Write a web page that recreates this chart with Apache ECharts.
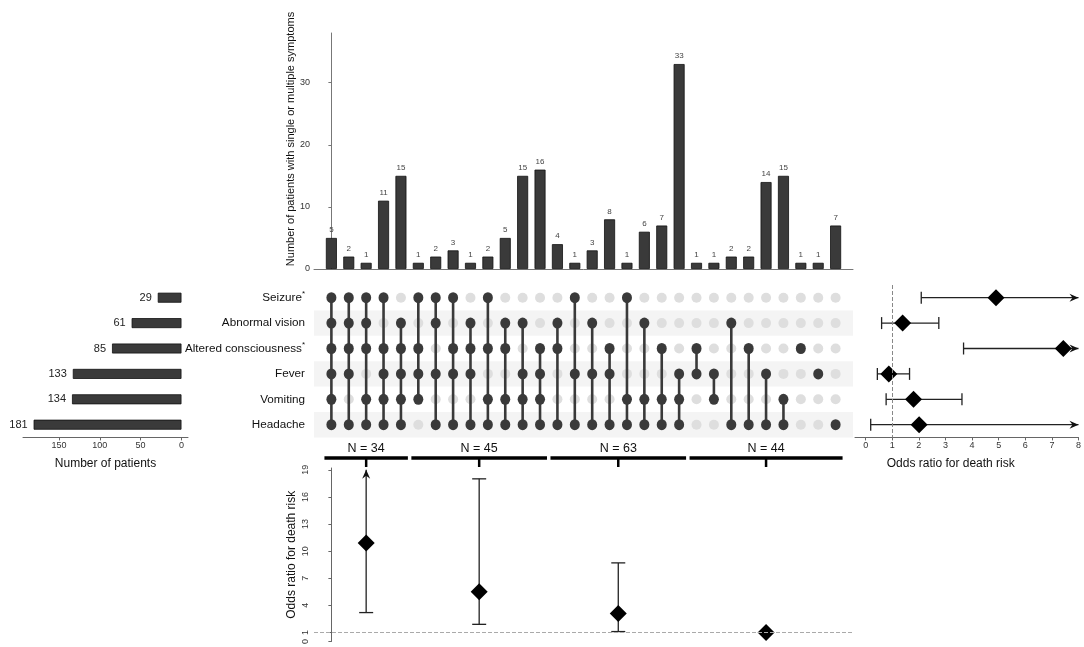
<!DOCTYPE html>
<html>
<head>
<meta charset="utf-8">
<script src="https://cdn.jsdelivr.net/npm/echarts@6/dist/echarts.min.js"></script>
<style>
  html, body { margin: 0; padding: 0; background: #fff; }
  #chart { width: 1084px; height: 647px; }
</style>
</head>
<body>
<div id="chart"></div>
<script>
// symptom sets (matrix rows, top to bottom)
const sets = ['Seizure', 'Abnormal vision', 'Altered consciousness', 'Fever', 'Vomiting', 'Headache'];
const starred = ['Seizure', 'Altered consciousness'];
const setSizes = [29, 61, 85, 133, 134, 181];

// intersections (matrix columns, left to right)
const intersectionCounts = [5, 2, 1, 11, 15, 1, 2, 3, 1, 2, 5, 15, 16, 4, 1, 3, 8, 1, 6, 7, 33, 1, 1, 2, 2, 14, 15, 1, 1, 7];
const intersectionSets = [
  [0, 1, 2, 3, 4, 5], [0, 1, 2, 3, 5], [0, 1, 2, 4, 5], [0, 2, 3, 4, 5], [1, 2, 3, 4, 5],
  [0, 2, 3, 4], [0, 1, 3, 5], [0, 2, 3, 5], [1, 2, 3, 5], [0, 2, 4, 5], [1, 2, 4, 5], [1, 3, 4, 5], [2, 3, 4, 5],
  [1, 2, 5], [0, 3, 5], [1, 3, 5], [2, 3, 5], [0, 4, 5], [1, 4, 5], [2, 4, 5], [3, 4, 5],
  [2, 3], [3, 4], [1, 5], [2, 5], [3, 5], [4, 5], [2], [3], [5]
];
const countTicks = [0, 10, 20, 30];

// odds ratio per symptom (right panel)
const setOR = [4.9, 1.39, 7.43, 0.87, 1.8, 2.01];
const setLow = [2.09, 0.6, 3.68, 0.44, 0.77, 0.19];
const setHigh = [Infinity, 2.75, Infinity, 1.65, 3.62, Infinity];

// odds ratio per number of symptoms (bottom panel)
const groupLabels = ['N = 34', 'N = 45', 'N = 63', 'N = 44'];
const groupRanges = [[0, 4], [5, 12], [13, 20], [21, 29]];
const groupOR = [10.9, 5.5, 3.1, 1.0];
const groupLow = [3.2, 1.9, 1.1, null];
const groupHigh = [Infinity, 18.0, 8.7, null];

const orTicksRight = [0, 1, 2, 3, 4, 5, 6, 7, 8];
const orTicksBottom = [0, 1, 4, 7, 10, 13, 16, 19];
const patientTicks = [0, 50, 100, 150];

const FONT = 'Liberation Sans, Arial, Helvetica, sans-serif';
const DARK = '#3a3a3a';
const COL_MIN = -1, COL_MAX = 30;
const OR_R_MAX = 8, OR_B_MAX = 19.2;

// matrix dots
const darkDots = [], lightDots = [], links = [];
intersectionSets.forEach((m, c) => {
  sets.forEach((s, r) => (m.includes(r) ? darkDots : lightDots).push([c, r]));
  if (m.length > 1) links.push([c, Math.min(...m), Math.max(...m)]);
});
const stripeRows = sets.map((s, r) => [r]).filter(d => d[0] % 2 === 1);
const groupCenter = groupRanges.map(g => (g[0] + g[1]) / 2);

const chart = echarts.init(document.getElementById('chart'));

const lineStyle = { stroke: '#222', lineWidth: 1.3 };

chart.setOption({
  animation: false,
  textStyle: { fontFamily: FONT },
  grid: [
    { left: 314, top: 33, width: 539, height: 236 },
    { left: 314, top: 285, width: 539, height: 152.4 },
    { left: 23, top: 285, width: 165, height: 152.4 },
    { left: 855, top: 285, width: 225, height: 152.4 },
    { left: 314, top: 468, width: 539, height: 174 }
  ],
  xAxis: [
    { gridIndex: 0, type: 'value', min: COL_MIN, max: COL_MAX, axisLine: { lineStyle: { color: '#777' } },
      axisTick: { show: false }, axisLabel: { show: false }, splitLine: { show: false } },
    { gridIndex: 1, type: 'value', min: COL_MIN, max: COL_MAX, show: false },
    { gridIndex: 2, type: 'value', inverse: true, min: -8, max: 194,
      axisLine: { show: true, lineStyle: { color: '#666' } },
      axisTick: { show: true, length: 3, customValues: patientTicks, lineStyle: { color: '#666' } },
      axisLabel: { customValues: patientTicks, fontSize: 9, color: '#333', margin: 4 },
      splitLine: { show: false },
      name: 'Number of patients', nameLocation: 'middle', nameGap: 20,
      nameTextStyle: { fontSize: 12, color: '#111' } },
    { gridIndex: 3, type: 'value', min: -0.4, max: OR_R_MAX,
      axisLine: { show: true, lineStyle: { color: '#666' } },
      axisTick: { show: true, length: 3, customValues: orTicksRight, lineStyle: { color: '#666' } },
      axisLabel: { customValues: orTicksRight, fontSize: 9, color: '#333', margin: 4 },
      splitLine: { show: false },
      name: 'Odds ratio for death risk', nameLocation: 'middle', nameGap: 20,
      nameTextStyle: { fontSize: 12, color: '#111', padding: [0, 32, 0, 0] } },
    { gridIndex: 4, type: 'value', min: COL_MIN, max: COL_MAX, show: false }
  ],
  yAxis: [
    { gridIndex: 0, type: 'value', min: 0, max: 38,
      axisLine: { show: true, lineStyle: { color: '#777' } },
      axisTick: { show: true, length: 3, customValues: countTicks, lineStyle: { color: '#777' } },
      axisLabel: { customValues: countTicks, fontSize: 9, color: '#333', margin: 4 },
      splitLine: { show: false },
      name: 'Number of patients with single or multiple symptoms', nameLocation: 'middle', nameGap: 16,
      nameTextStyle: { fontSize: 11, color: '#111', padding: [0, 0, 0, 24] } },
    { gridIndex: 1, type: 'value', min: -0.5, max: 5.5, inverse: true, show: false },
    { gridIndex: 1, type: 'category', data: sets, inverse: true, position: 'left',
      axisLine: { show: false }, axisTick: { show: false },
      axisLabel: { fontSize: 11.7, color: '#111', margin: 9,
        formatter: v => starred.includes(v) ? v + '{s|*}' : v,
        rich: { s: { fontSize: 8, color: '#111', padding: [0, 0, 7, 0] } } } },
    { gridIndex: 2, type: 'category', data: sets, inverse: true, show: false },
    { gridIndex: 3, type: 'category', data: sets, inverse: true, show: false },
    { gridIndex: 4, type: 'value', min: 0, max: OR_B_MAX,
      axisLine: { show: true, lineStyle: { color: '#666' } },
      axisTick: { show: true, length: 3, customValues: orTicksBottom, lineStyle: { color: '#666' } },
      axisLabel: { customValues: orTicksBottom, fontSize: 9, color: '#333', rotate: 90, margin: 4 },
      splitLine: { show: false },
      name: 'Odds ratio for death risk', nameLocation: 'middle', nameGap: 16,
      nameTextStyle: { fontSize: 12, color: '#111' } }
  ],
  series: [
    // intersection sizes
    { type: 'bar', xAxisIndex: 0, yAxisIndex: 0, barWidth: 11,
      data: intersectionCounts.map((v, i) => [i, v]),
      itemStyle: { color: DARK, borderColor: '#111', borderWidth: 0.8 },
      label: { show: true, position: 'top', fontSize: 8, color: '#444', distance: 4 } },

    // matrix stripes
    { type: 'custom', xAxisIndex: 1, yAxisIndex: 1, z: 1, silent: true, data: stripeRows,
      renderItem: (params, api) => {
        const r = api.value(0);
        const a = api.coord([COL_MIN, r - 0.5]);
        const b = api.coord([COL_MAX, r + 0.5]);
        return { type: 'rect', shape: { x: a[0], y: a[1], width: b[0] - a[0], height: b[1] - a[1] },
          style: { fill: '#f4f4f4' } };
      } },
    // light dots
    { type: 'scatter', xAxisIndex: 1, yAxisIndex: 1, z: 2, symbolSize: 10, data: lightDots,
      itemStyle: { color: '#dedede', opacity: 1 } },
    // connecting lines
    { type: 'custom', xAxisIndex: 1, yAxisIndex: 1, z: 3, data: links, encode: { x: 0, y: [1, 2] },
      renderItem: (params, api) => {
        const a = api.coord([api.value(0), api.value(1)]);
        const b = api.coord([api.value(0), api.value(2)]);
        return { type: 'line', shape: { x1: a[0], y1: a[1], x2: b[0], y2: b[1] },
          style: { stroke: DARK, lineWidth: 2.6 } };
      } },
    // dark dots
    { type: 'scatter', xAxisIndex: 1, yAxisIndex: 1, z: 4, symbolSize: [10, 11], data: darkDots,
      itemStyle: { color: DARK, opacity: 1 } },

    // set sizes
    { type: 'bar', xAxisIndex: 2, yAxisIndex: 3, barWidth: 10, data: setSizes,
      itemStyle: { color: DARK, borderColor: '#111', borderWidth: 0.8 },
      label: { show: true, position: 'left', fontSize: 11, color: '#222', distance: 6 } },

    // right forest: CI lines
    { type: 'custom', xAxisIndex: 3, yAxisIndex: 4, z: 3, data: sets.map((s, i) => [i]),
      encode: { y: 0 },
      renderItem: (params, api) => {
        const i = params.dataIndex;
        const open = setHigh[i] > OR_R_MAX;
        const a = api.coord([setLow[i], i]);
        const b = api.coord([open ? OR_R_MAX : setHigh[i], i]);
        const ch = [
          { type: 'line', shape: { x1: a[0], y1: a[1], x2: b[0], y2: b[1] }, style: lineStyle },
          { type: 'line', shape: { x1: a[0], y1: a[1] - 6, x2: a[0], y2: a[1] + 6 }, style: lineStyle }
        ];
        if (open) {
          ch.push({ type: 'polygon', shape: { points: [[b[0], b[1]], [b[0] - 9, b[1] - 4], [b[0] - 6, b[1]], [b[0] - 9, b[1] + 4]] },
            style: { fill: '#111' } });
        } else {
          ch.push({ type: 'line', shape: { x1: b[0], y1: b[1] - 6, x2: b[0], y2: b[1] + 6 }, style: lineStyle });
        }
        return { type: 'group', children: ch };
      } },
    // right forest: diamonds
    { type: 'scatter', xAxisIndex: 3, yAxisIndex: 4, z: 4, symbol: 'diamond', symbolSize: 17,
      data: setOR.map((v, i) => [v, i]), itemStyle: { color: '#000', opacity: 1 },
      markLine: { silent: true, symbol: 'none', label: { show: false },
        lineStyle: { type: 'dashed', color: '#888', width: 1 }, data: [{ xAxis: 1 }] } },

    // bottom forest: group brackets
    { type: 'custom', xAxisIndex: 4, yAxisIndex: 5, clip: false, data: groupLabels.map((g, i) => [i]),
      encode: { x: 0 },
      renderItem: (params, api) => {
        const g = params.dataIndex;
        const a = api.coord([groupRanges[g][0] - 0.4, OR_B_MAX]);
        const b = api.coord([groupRanges[g][1] + 0.4, OR_B_MAX]);
        const c = api.coord([groupCenter[g], OR_B_MAX]);
        const y = a[1] - 10;
        return { type: 'group', children: [
          { type: 'line', shape: { x1: a[0], y1: y, x2: b[0], y2: y }, style: { stroke: '#000', lineWidth: 3.5 } },
          { type: 'line', shape: { x1: c[0], y1: y, x2: c[0], y2: y + 9 }, style: { stroke: '#000', lineWidth: 2.5 } },
          { type: 'text', x: c[0], y: y - 9,
            style: { text: groupLabels[g], fontSize: 12.5, fontFamily: FONT, fill: '#111', align: 'center', verticalAlign: 'middle' } }
        ] };
      } },
    // bottom forest: CI lines
    { type: 'custom', xAxisIndex: 4, yAxisIndex: 5, z: 3, data: groupLabels.map((g, i) => [i]),
      encode: { x: 0 },
      renderItem: (params, api) => {
        const g = params.dataIndex;
        if (groupLow[g] == null) return null;
        const open = groupHigh[g] > OR_B_MAX;
        const a = api.coord([groupCenter[g], groupLow[g]]);
        const b = api.coord([groupCenter[g], open ? 19 : groupHigh[g]]);
        const ch = [
          { type: 'line', shape: { x1: a[0], y1: a[1], x2: b[0], y2: b[1] }, style: lineStyle },
          { type: 'line', shape: { x1: a[0] - 7, y1: a[1], x2: a[0] + 7, y2: a[1] }, style: lineStyle }
        ];
        if (open) {
          ch.push({ type: 'polygon', shape: { points: [[b[0], b[1]], [b[0] - 4, b[1] + 9], [b[0], b[1] + 6], [b[0] + 4, b[1] + 9]] },
            style: { fill: '#111' } });
        } else {
          ch.push({ type: 'line', shape: { x1: b[0] - 7, y1: b[1], x2: b[0] + 7, y2: b[1] }, style: lineStyle });
        }
        return { type: 'group', children: ch };
      } },
    // bottom forest: diamonds
    { type: 'scatter', xAxisIndex: 4, yAxisIndex: 5, z: 4, symbol: 'diamond', symbolSize: 17,
      data: groupOR.map((v, g) => [groupCenter[g], v]), itemStyle: { color: '#000', opacity: 1 },
      markLine: { silent: true, symbol: 'none', label: { show: false },
        lineStyle: { type: 'dashed', color: '#aaa', width: 1 }, data: [{ yAxis: 1 }] } }
  ]
});
</script>
</body>
</html>
